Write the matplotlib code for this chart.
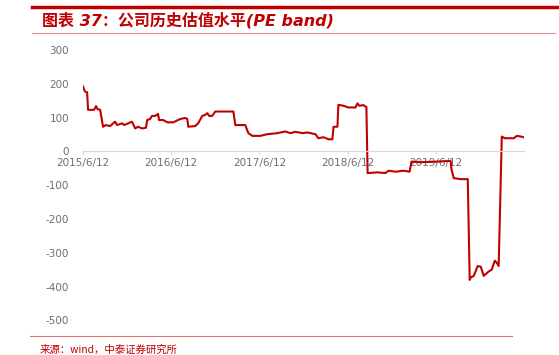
import pandas as pd
import matplotlib.pyplot as plt
import matplotlib.dates as mdates
from matplotlib.lines import Line2D

# dados (PE band)
dates = ['2015-06-12', '2015-06-20', '2015-06-29', '2015-07-03', '2015-07-28', '2015-08-05',
         '2015-08-11', '2015-08-22', '2015-09-03', '2015-09-15', '2015-10-02', '2015-10-23',
         '2015-10-31', '2015-11-21', '2015-11-29', '2015-12-16', '2016-01-01', '2016-01-14',
         '2016-01-26', '2016-02-12', '2016-02-28', '2016-03-04', '2016-03-16', '2016-03-24',
         '2016-04-06', '2016-04-18', '2016-04-22', '2016-05-09', '2016-05-26', '2016-06-20',
         '2016-07-19', '2016-08-08', '2016-08-17', '2016-08-21', '2016-09-19', '2016-10-01',
         '2016-10-18', '2016-10-30', '2016-11-08', '2016-11-16', '2016-11-28', '2016-12-11',
         '2017-02-24', '2017-03-04', '2017-04-14', '2017-04-27', '2017-05-13', '2017-06-16',
         '2017-07-15', '2017-08-25', '2017-09-07', '2017-09-27', '2017-10-18', '2017-11-08',
         '2017-12-07', '2017-12-28', '2018-01-30', '2018-02-11', '2018-03-04', '2018-03-25',
         '2018-04-10', '2018-04-15', '2018-05-01', '2018-05-05', '2018-05-26', '2018-06-16',
         '2018-07-15', '2018-07-23', '2018-07-31', '2018-08-17', '2018-08-29', '2018-09-03',
         '2018-10-14', '2018-11-16', '2018-11-29', '2018-12-28', '2019-01-30', '2019-02-24',
         '2019-03-04', '2019-04-11', '2019-06-20', '2019-08-13', '2019-08-17', '2019-08-26',
         '2019-09-24', '2019-10-23', '2019-10-31', '2019-11-04', '2019-11-17', '2019-12-03',
         '2019-12-16', '2019-12-28', '2020-01-18', '2020-01-30', '2020-02-12', '2020-02-20',
         '2020-02-28', '2020-03-12', '2020-03-24', '2020-05-01', '2020-05-13', '2020-05-30',
         '2020-06-15']
pe = [192, 177, 175, 123, 123, 134, 125, 123, 73, 78, 75, 88,
      78, 83, 78, 83, 88, 68, 73, 68, 70, 93, 96, 105,
      105, 111, 93, 93, 86, 86, 96, 99, 96, 73, 75, 83,
      105, 108, 113, 105, 105, 118, 118, 78, 78, 54, 46, 46,
      51, 54, 56, 59, 54, 58, 54, 56, 51, 39, 42, 36,
      36, 73, 73, 138, 135, 130, 130, 142, 135, 137, 131, -64,
      -62, -64, -57, -60, -57, -60, -30, -32, -30, -28, -55, -79,
      -82, -82, -380, -373, -368, -339, -341, -368, -355, -350, -323, -329,
      -339, 44, 39, 39, 46, 44, 41]

tick_dates = ['2015-06-12', '2016-06-12', '2017-06-12', '2018-06-12', '2019-06-12']
tick_labels = ['2015/6/12', '2016/6/12', '2017/6/12', '2018/6/12', '2019/6/12']
y_ticks = [300, 200, 100, 0, -100, -200, -300, -400, -500]

title = '图表 37：公司历史估值水平(PE band)'
source = '来源：wind，中泰证券研究所'

red = '#c00000'
grey = '#6e6e6e'
fams = ['DejaVu Sans', 'Noto Sans CJK SC']

fig = plt.figure(figsize=(5.59, 3.55), dpi=100)
ax = fig.add_axes([0.1485, 0.0972, 0.7889, 0.7620])

x = pd.to_datetime(dates)
ax.plot(x, pe, color=red, linewidth=1.5)

ax.set_xlim(pd.Timestamp('2015-06-12'), pd.Timestamp('2020-06-12'))
ax.set_ylim(-500, 300)
ax.set_yticks(y_ticks)
ax.set_yticklabels([str(v) for v in y_ticks])
ax.set_xticks(pd.to_datetime(tick_dates))
ax.set_xticklabels(tick_labels)

for s in ['left', 'right', 'top']:
    ax.spines[s].set_visible(False)
ax.spines['bottom'].set_position(('data', 0))
ax.spines['bottom'].set_color('#d9d9d9')
ax.tick_params(axis='x', length=3, color='#d9d9d9', labelsize=7.5, labelcolor=grey, pad=2)
ax.tick_params(axis='y', length=0, labelsize=7.5, labelcolor=grey, pad=10)
for lab in ax.get_xticklabels() + ax.get_yticklabels():
    lab.set_family('DejaVu Sans')

# moldura do relatório
fig.add_artist(Line2D([32/559, 1.0], [1 - 7/355, 1 - 7/355], color=red, linewidth=2.5))
fig.add_artist(Line2D([32/559, 555/559], [1 - 33/355, 1 - 33/355], color='#e89090', linewidth=0.8))
fig.add_artist(Line2D([30/559, 512/559], [1 - 336/355, 1 - 336/355], color='#e07878', linewidth=0.8))

fig.text(42/559, 1 - 20/355, title, color=red, fontsize=11.5, fontweight='bold', style='italic',
         family=fams, va='center', ha='left')
fig.text(40/559, 1 - 350/355, source, color=red, fontsize=7.5,
         family=['Noto Sans CJK SC', 'DejaVu Sans'], va='center', ha='left')

plt.savefig('out.png', dpi=100)
plt.close()
